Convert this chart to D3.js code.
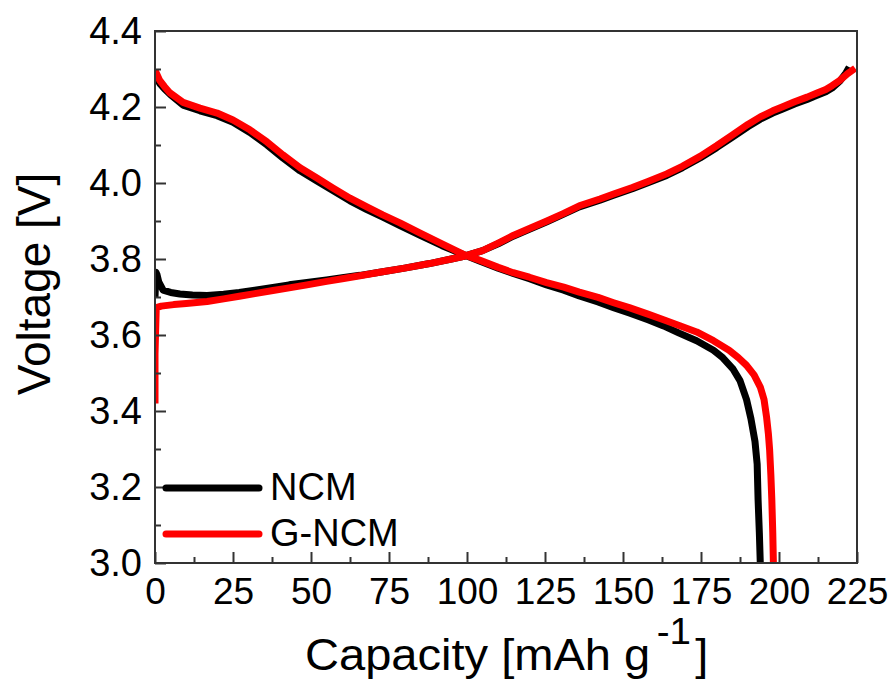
<!DOCTYPE html>
<html>
<head>
<meta charset="utf-8">
<script src="https://cdn.jsdelivr.net/npm/d3@7/dist/d3.min.js"></script>
<style>
  body { margin: 0; background: #fff; }
  svg { display: block; }
  text { font-family: "Liberation Sans", Arial, sans-serif; fill: #000; }
</style>
</head>
<body>
<svg id="chart" width="893" height="681"></svg>
<script>
// ---- data (capacity mAh/g, voltage V) ----
const ncmChargeCap = [0, 0.3, 0.6, 1.2, 2.6, 5, 8, 12, 16.7, 22, 27, 32, 37.8, 43, 48.7, 55, 60, 65.7, 72, 80, 88, 95, 99.4, 105, 110, 114.8, 120, 125.6, 131, 136, 142.6, 147, 153, 158, 164, 169, 174.7, 180, 185, 190, 194, 198, 201, 205, 209, 212, 215, 217, 219.5, 221.5, 222.5];
const ncmChargeV   = [3.70, 3.765, 3.76, 3.74, 3.718, 3.712, 3.708, 3.705, 3.704, 3.707, 3.712, 3.718, 3.725, 3.732, 3.738, 3.745, 3.751, 3.757, 3.765, 3.776, 3.788, 3.800, 3.808, 3.822, 3.840, 3.860, 3.878, 3.898, 3.918, 3.937, 3.955, 3.968, 3.985, 4.001, 4.020, 4.040, 4.066, 4.093, 4.120, 4.148, 4.168, 4.184, 4.194, 4.208, 4.220, 4.230, 4.240, 4.250, 4.268, 4.290, 4.305];

const gncmChargeCap = [0, 0, 0.4, 2, 6, 10, 16.7, 22, 27, 32, 37.8, 43, 48.7, 55, 60, 65.7, 72, 80, 88, 95, 99.4, 105, 110, 114.8, 120, 125.6, 131, 136, 142.6, 147, 153, 158, 164, 169, 174.7, 180, 185, 190, 194, 198, 201, 205, 209, 212, 215, 217, 219.5, 222, 224.4];
const gncmChargeV   = [3.42, 3.55, 3.672, 3.676, 3.680, 3.683, 3.688, 3.695, 3.702, 3.709, 3.717, 3.724, 3.732, 3.741, 3.748, 3.756, 3.765, 3.776, 3.788, 3.800, 3.808, 3.822, 3.842, 3.862, 3.880, 3.900, 3.920, 3.940, 3.958, 3.971, 3.988, 4.004, 4.024, 4.044, 4.070, 4.098, 4.126, 4.154, 4.174, 4.190, 4.200, 4.214, 4.226, 4.236, 4.246, 4.256, 4.270, 4.288, 4.302];

const ncmDisCap = [0, 1.5, 3, 5, 9, 14.4, 19.9, 25, 30.4, 35.9, 41, 46.5, 51.9, 57, 62.5, 67.9, 73, 78.5, 85, 92, 99.4, 104, 110, 114.8, 120, 125.5, 131, 136, 142, 147, 152, 158, 163, 168, 173.6, 179, 182, 185.3, 187.5, 189.6, 191, 192.3, 193, 193.3, 193.7, 194];
const ncmDisV   = [4.285, 4.262, 4.248, 4.232, 4.205, 4.190, 4.177, 4.160, 4.133, 4.100, 4.066, 4.032, 4.005, 3.980, 3.953, 3.930, 3.910, 3.888, 3.862, 3.835, 3.810, 3.795, 3.776, 3.762, 3.748, 3.732, 3.718, 3.703, 3.687, 3.672, 3.658, 3.640, 3.624, 3.605, 3.585, 3.560, 3.540, 3.510, 3.480, 3.430, 3.380, 3.320, 3.260, 3.166, 3.080, 3.000];

const gncmDisCap = [0, 1.5, 3, 4.8, 9, 14.4, 19.9, 25, 30.4, 35.9, 41, 46.5, 51.9, 57, 62.5, 67.9, 73, 78.5, 85, 92, 99.4, 104, 110, 114.8, 120, 125.5, 131, 136, 142, 147, 152, 158, 163, 168, 173.6, 179, 184, 187, 189.6, 192, 194, 195.2, 196, 196.6, 197, 197.4, 197.7, 198, 198.2];
const gncmDisV   = [4.297, 4.270, 4.254, 4.237, 4.212, 4.197, 4.184, 4.166, 4.140, 4.108, 4.074, 4.040, 4.013, 3.987, 3.960, 3.937, 3.916, 3.895, 3.868, 3.840, 3.810, 3.797, 3.778, 3.764, 3.752, 3.738, 3.726, 3.713, 3.699, 3.685, 3.672, 3.655, 3.640, 3.625, 3.608, 3.585, 3.560, 3.540, 3.520, 3.495, 3.463, 3.430, 3.385, 3.340, 3.297, 3.230, 3.166, 3.080, 3.000];

const xTicks = [0, 25, 50, 75, 100, 125, 150, 175, 200, 225];
const xMinorTicks = [12.5, 37.5, 62.5, 87.5, 112.5, 137.5, 162.5, 187.5, 212.5];
const yTicks = [3.0, 3.2, 3.4, 3.6, 3.8, 4.0, 4.2, 4.4];
const yMinorTicks = [3.1, 3.3, 3.5, 3.7, 3.9, 4.1, 4.3];
const legendLabels = ["NCM", "G-NCM"];
const colors = ["#000000", "#ff0000"];

// ---- layout ----
const svg = d3.select("#chart");
const L = 155, R = 857, T = 31, B = 563;
const x = d3.scaleLinear().domain([0, 225]).range([L, R]);
const y = d3.scaleLinear().domain([3.0, 4.4]).range([B, T]);

const axisColor = "#333";

const lineXY = d3.line().x(d => x(d[0])).y(d => y(d[1])).curve(d3.curveLinear);

const plot = svg.append("g");
plot.append("clipPath").attr("id", "clip").append("rect")
  .attr("x", L).attr("y", T).attr("width", R - L).attr("height", B - T);
const curves = plot.append("g").attr("clip-path", "url(#clip)");

function zip(a, b) { return a.map((v, i) => [v, b[i]]); }

const series = [
  { d: zip(ncmChargeCap, ncmChargeV), c: colors[0] },
  { d: zip(ncmDisCap, ncmDisV), c: colors[0] },
  { d: zip(gncmChargeCap, gncmChargeV), c: colors[1] },
  { d: zip(gncmDisCap, gncmDisV), c: colors[1] }
];
series.forEach(s => {
  curves.append("path").attr("d", lineXY(s.d))
    .attr("fill", "none").attr("stroke", s.c).attr("stroke-width", 7)
    .attr("stroke-linejoin", "round").attr("stroke-linecap", "butt");
});

// ---- axes ----
const xAxis = d3.axisBottom(x).tickValues(xTicks).tickSizeInner(-11).tickSizeOuter(0).tickFormat(d3.format("d"));
const xAxisMinor = d3.axisBottom(x).tickValues(xMinorTicks).tickSizeInner(-6).tickSizeOuter(0).tickFormat("");
const yAxis = d3.axisLeft(y).tickValues(yTicks).tickSizeInner(-11).tickSizeOuter(0).tickFormat(d3.format(".1f"));
const yAxisMinor = d3.axisLeft(y).tickValues(yMinorTicks).tickSizeInner(-6).tickSizeOuter(0).tickFormat("");

function styleAxis(g) {
  g.select(".domain").remove();
  g.selectAll(".tick line").attr("stroke", axisColor).attr("stroke-width", 2);
}

const gx = svg.append("g").attr("transform", `translate(0,${B})`).call(xAxis).call(styleAxis);
gx.selectAll(".tick text").attr("font-size", 37).attr("y", 41).attr("dy", 0)
  .attr("font-family", "Liberation Sans, Arial, sans-serif").attr("fill", "#000");
svg.append("g").attr("transform", `translate(0,${B})`).call(xAxisMinor).call(styleAxis);

const gy = svg.append("g").attr("transform", `translate(${L},0)`).call(yAxis).call(styleAxis);
gy.selectAll(".tick text").attr("font-size", 38).attr("x", -13).attr("dy", 12)
  .attr("font-family", "Liberation Sans, Arial, sans-serif")
  .attr("text-anchor", "end").attr("fill", "#000");
svg.append("g").attr("transform", `translate(${L},0)`).call(yAxisMinor).call(styleAxis);

// frame
svg.append("rect").attr("x", L).attr("y", T).attr("width", R - L).attr("height", B - T)
  .attr("fill", "none").attr("stroke", axisColor).attr("stroke-width", 2);

// ---- axis titles ----
const xt = svg.append("text").attr("transform", "translate(305,670) scale(1.07,1)").attr("font-size", 44);
xt.append("tspan").text("Capacity [mAh g");
xt.append("tspan").attr("font-size", 36).attr("dx", 6).attr("dy", -26).text("-1");
xt.append("tspan").attr("dx", 4).attr("dy", 26).text("]");

svg.append("text").attr("text-anchor", "middle")
  .attr("transform", `translate(50,284) rotate(-90)`).attr("font-size", 46)
  .text("Voltage [V]");

// ---- legend ----
const leg = svg.append("g");
legendLabels.forEach((lab, i) => {
  const ly = 488 + i * 46;
  leg.append("line").attr("x1", 166).attr("x2", 259).attr("y1", ly).attr("y2", ly)
    .attr("stroke", colors[i]).attr("stroke-width", 7).attr("stroke-linecap", "round");
  leg.append("text").attr("x", 270).attr("y", ly + 12)
    .attr("font-size", 38).text(lab);
});
</script>
</body>
</html>
